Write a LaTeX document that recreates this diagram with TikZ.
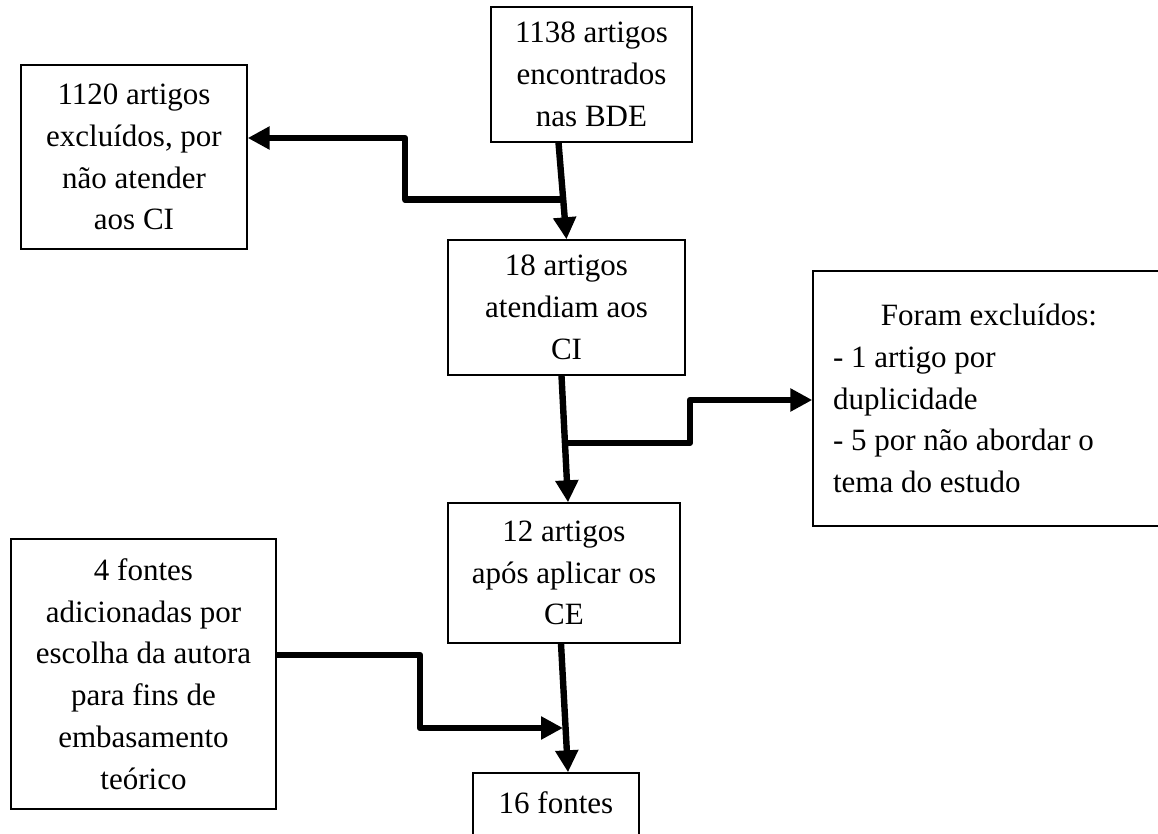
\documentclass[tikz,border=0pt]{standalone}
\usepackage{fontspec}
\setmainfont{Liberation Serif}
\usetikzlibrary{arrows.meta,calc}

\tikzset{
  box/.style={draw, line width=0.7pt, align=center, inner sep=0pt,
    font=\fontsize{15.5pt}{20.85pt}\selectfont},
  flow/.style={line width=3.2pt, line join=round,
    -{Triangle[length=11pt,width=11pt]}}
}

\begin{document}
\begin{tikzpicture}[x=0.5pt,y=-0.5pt]
\useasboundingbox (0,0) rectangle (1158,834);
\clip (0,0) rectangle (1158,834);

\node[box, minimum width=100.5pt, minimum height=67.5pt] (bde) at (591.5,74.5)
  {1138 artigos\\encontrados\\nas BDE};
\node[box, minimum width=113pt, minimum height=92pt] (exc) at (134,157)
  {1120 artigos\\excluídos, por\\não atender\\aos CI};
\node[box, minimum width=118.5pt, minimum height=67.5pt] (ci) at (566.5,307.5)
  {18 artigos\\atendiam aos\\CI};
\node[box, align=flush left, inner xsep=10pt, text width=156pt, minimum height=127.5pt] (dup) at (989,398.5)
  {{\centering Foram excluídos:\par}- 1 artigo por\\duplicidade\\- 5 por não abordar o\\tema do estudo};
\node[box, minimum width=116pt, minimum height=70pt] (ce) at (564,573)
  {12 artigos\\após aplicar os\\CE};
\node[box, minimum width=132.5pt, minimum height=135pt] (extra) at (143.5,674)
  {4 fontes\\adicionadas por\\escolha da autora\\para fins de\\embasamento\\teórico};
\node[box, minimum width=83pt, text height=20pt, text depth=20pt, anchor=base] (total) at (556,813)
  {16 fontes};

% main flow
\coordinate (s1) at ($(bde.south)+(-33,0)$);
\coordinate (s2) at ($(ci.south)+(-5,0)$);
\coordinate (e2) at ($(ce.north)+(4,0)$);
\coordinate (s3) at ($(ce.south)+(-3,0)$);
\coordinate (e3) at ($(total.north)+(12,0)$);
\draw[flow] (s1) -- (ci.north);
\draw[flow] (s2) -- (e2);
\draw[flow] (s3) -- (e3);

% side branches
\coordinate (b1) at ($(s1)!0.59!(ci.north)$);
\coordinate (k1) at (405,138);
\draw[flow] (b1) -| (k1) -- (k1 -| exc.east);

\coordinate (b2) at ($(s2)!0.53!(e2)$);
\coordinate (k2) at (690,400);
\draw[flow] (b2) -| (k2) -- (k2 -| dup.west);

\coordinate (s4) at ($(extra.east)+(0,-19)$);
\coordinate (k4) at (420,728);
\coordinate (j4) at (563,728);
\draw[flow] (s4) -| (k4) -- (j4);
\end{tikzpicture}
\end{document}
